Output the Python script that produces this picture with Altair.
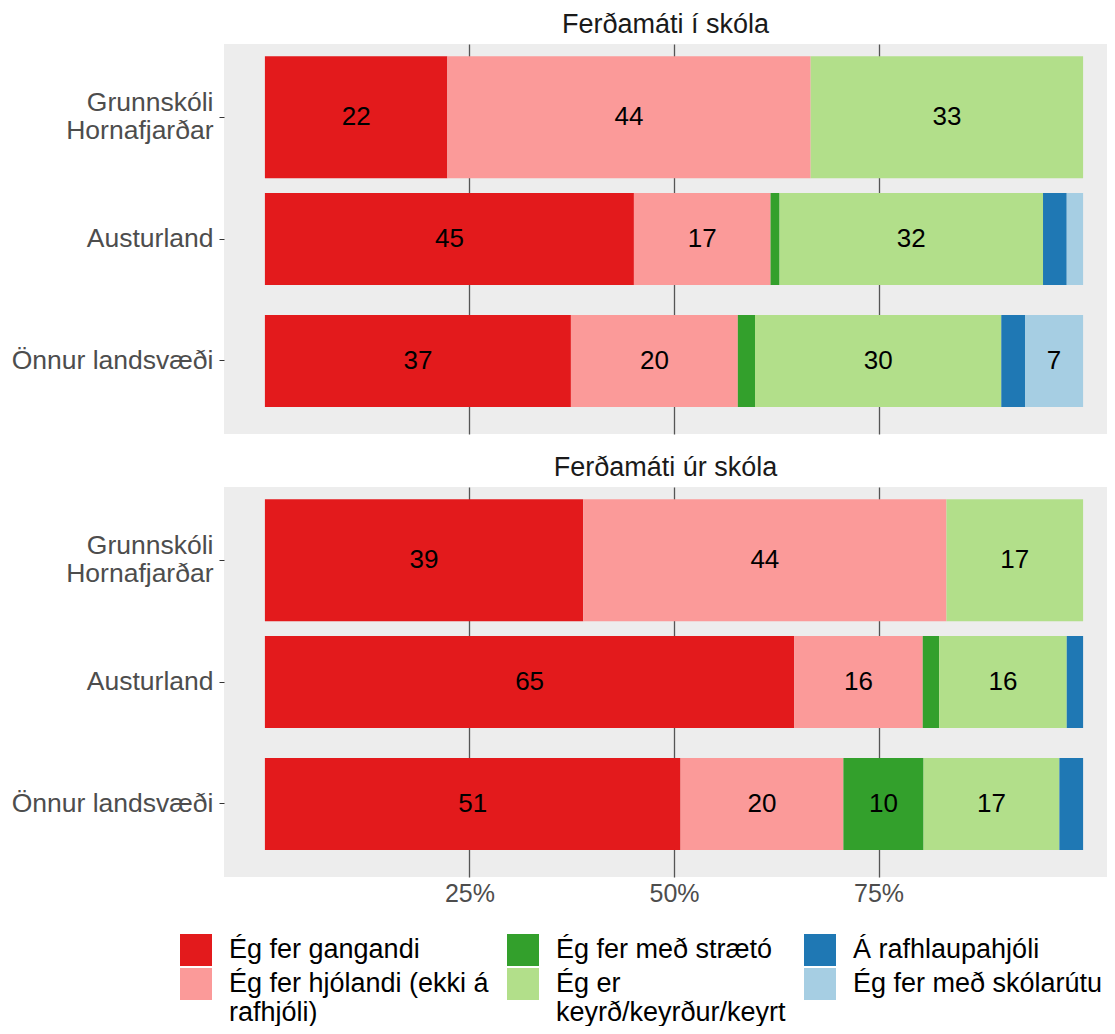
import altair as alt
import pandas as pd

panels = ["Ferðamáti í skóla", "Ferðamáti úr skóla"]
regions = ["Grunnskóli Hornafjarðar", "Austurland", "Önnur landsvæði"]
modes = [
    "Ég fer gangandi",
    "Ég fer hjólandi (ekki á rafhjóli)",
    "Ég fer með strætó",
    "Ég er keyrð/keyrður/keyrt",
    "Á rafhlaupahjóli",
    "Ég fer með skólarútu",
]
colors = ["#E31A1C", "#FB9A99", "#33A02C", "#B2DF8A", "#1F78B4", "#A6CEE3"]

# percentages per mode (same order as `modes`)
to_grunn = [22.3, 44.4, 0.0, 33.3, 0.0, 0.0]
to_aust = [45.1, 16.7, 1.1, 32.2, 2.9, 2.0]
to_onnur = [37.4, 20.4, 2.1, 30.1, 2.9, 7.1]
from_grunn = [38.9, 44.4, 0.0, 16.7, 0.0, 0.0]
from_aust = [64.7, 15.7, 2.0, 15.6, 2.0, 0.0]
from_onnur = [50.8, 19.9, 9.8, 16.6, 2.9, 0.0]

series = {
    (panels[0], regions[0]): to_grunn,
    (panels[0], regions[1]): to_aust,
    (panels[0], regions[2]): to_onnur,
    (panels[1], regions[0]): from_grunn,
    (panels[1], regions[1]): from_aust,
    (panels[1], regions[2]): from_onnur,
}

rows = []
for (p, r), vals in series.items():
    for i, (m, v) in enumerate(zip(modes, vals)):
        rows.append({"panel": p, "region": r, "mode": m, "order": i, "value": v})
df = pd.DataFrame(rows)

FONT = "Liberation Sans"


def make_panel(name, show_labels):
    base = (
        alt.Chart(df)
        .transform_filter(alt.datum.panel == name)
        .transform_filter(alt.datum.value > 0)
        .transform_stack(
            stack="value",
            groupby=["region"],
            sort=[alt.SortField("order", order="ascending")],
            as_=["x0", "x1"],
        )
        .transform_calculate(
            mid="(datum.x0 + datum.x1) / 2",
            label="format(round(datum.value), 'd')",
        )
    )
    xscale = alt.Scale(domain=[-5, 102.92], nice=False, zero=False)
    xaxis = alt.Axis(
        values=[25, 50, 75],
        labels=show_labels,
        labelExpr="datum.value + '%'",
        labelFontSize=25,
        labelColor="#4D4D4D",
        labelPadding=4,
        ticks=False,
        tickSize=0,
        domain=False,
        grid=True,
        gridColor="#555555",
        gridWidth=1.3,
        title=None,
    )
    yscale = alt.Scale(domain=regions, paddingInner=0, paddingOuter=0.1)
    yaxis = alt.Axis(
        title=None,
        labelExpr="datum.label == 'Grunnskóli Hornafjarðar' ? ['Grunnskóli', 'Hornafjarðar'] : datum.label",
        labelBaseline={
            "condition": {
                "test": "datum.value == 'Grunnskóli Hornafjarðar'",
                "value": "line-bottom",
            },
            "value": "middle",
        },
        labelFontSize=26.5,
        labelColor="#4D4D4D",
        labelLineHeight=28,
        labelPadding=6,
        labelLimit=400,
        tickSize=5,
        tickColor="#333333",
        domain=False,
        grid=False,
    )
    bars = base.mark_bar().encode(
        x=alt.X("x0:Q", scale=xscale, axis=xaxis),
        x2="x1:Q",
        y=alt.Y("region:N", scale=yscale, axis=yaxis, sort=regions),
        color=alt.Color(
            "mode:N",
            scale=alt.Scale(domain=modes, range=colors),
            legend=alt.Legend(
                title=None,
                orient="none",
                legendX=-44,
                legendY=890,
                columns=3,
                symbolType="square",
                symbolSize=1024,
                symbolStrokeWidth=0,
                symbolOpacity=1,
                labelFontSize=27,
                labelColor="#000000",
                labelOffset=17,
                labelLimit=1000,
                columnPadding=18,
                rowPadding=2,
                labelExpr=(
                    "datum.label == 'Ég fer hjólandi (ekki á rafhjóli)' ? ['Ég fer hjólandi (ekki á', 'rafhjóli)'] : "
                    "datum.label == 'Ég er keyrð/keyrður/keyrt' ? ['Ég er', 'keyrð/keyrður/keyrt'] : datum.label"
                ),
            ),
        ),
        order=alt.Order("order:Q"),
        size=alt.condition(
            "datum.region == 'Grunnskóli Hornafjarðar'", alt.value(122), alt.value(92)
        ),
    )
    texts = (
        base.transform_filter(alt.datum.value >= 5)
        .mark_text(fontSize=26, color="#000000", font=FONT)
        .encode(
            x=alt.X("mid:Q", scale=xscale),
            y=alt.Y("region:N", scale=yscale, sort=regions),
            text="label:N",
        )
    )
    return alt.layer(bars, texts).properties(
        width=883,
        height=390,
        title=alt.TitleParams(
            name,
            fontSize=27,
            fontWeight="normal",
            color="#1A1A1A",
            anchor="middle",
            frame="group",
            offset=5,
            font=FONT,
        ),
    )


chart = (
    alt.vconcat(make_panel(panels[0], False), make_panel(panels[1], True), spacing=20)
    .properties(padding={"left": 3, "top": 3, "right": 0, "bottom": 0})
    .configure(font=FONT)
    .configure_view(fill="#EDEDED", strokeWidth=0)
    .configure_axis(labelFont=FONT)
    .configure_legend(labelFont=FONT)
)

chart.save("out.html", embed_options={"renderer": "svg", "actions": False})
